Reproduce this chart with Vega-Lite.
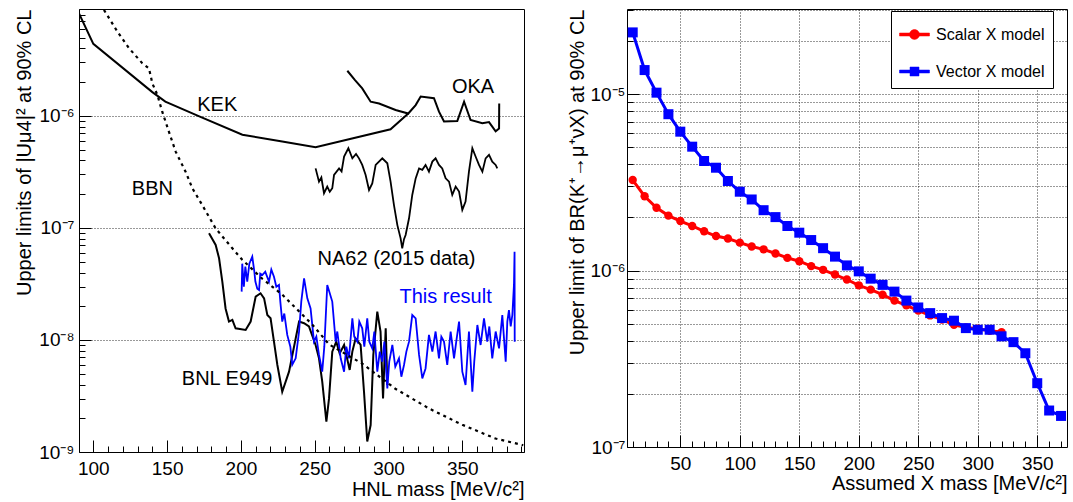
{
  "$schema": "https://vega.github.io/schema/vega-lite/v6.json",
  "background": "white",
  "autosize": {"type": "pad"},
  "padding": {"left": 13, "top": 8, "right": 5, "bottom": 3},
  "bounds": "flush",
  "spacing": 103,
  "config": {
    "font": "Liberation Sans",
    "view": {"stroke": "black", "strokeWidth": 1},
    "axis": {
      "domain": false,
      "tickColor": "black",
      "tickWidth": 1,
      "labelColor": "black",
      "labelFont": "Liberation Sans",
      "titleColor": "black",
      "titleFont": "Liberation Sans",
      "titleFontSize": 20,
      "titleFontWeight": "normal",
      "gridColor": "black",
      "gridDash": [1, 2],
      "gridWidth": 1
    }
  },
  "datasets": {
    "kek": [
      {"i": 0, "x": 90.3, "y": 8.2e-6}, {"i": 1, "x": 100, "y": 4.4e-6}, {"i": 2, "x": 140, "y": 1.63e-6},
      {"i": 3, "x": 148.8, "y": 1.34e-6}, {"i": 4, "x": 171.8, "y": 9.9e-7}, {"i": 5, "x": 201, "y": 6.8e-7},
      {"i": 6, "x": 228, "y": 5.9e-7}, {"i": 7, "x": 250.6, "y": 5.25e-7}, {"i": 8, "x": 301.4, "y": 7.6e-7},
      {"i": 9, "x": 313.4, "y": 1.05e-6}
    ],
    "oka": [
      {"i": 0, "x": 272.1, "y": 2.53e-6}, {"i": 1, "x": 277.3, "y": 2.09e-6}, {"i": 2, "x": 282.2, "y": 1.76e-6},
      {"i": 3, "x": 287.9, "y": 1.34e-6}, {"i": 4, "x": 293.6, "y": 1.29e-6}, {"i": 5, "x": 304.8, "y": 1.13e-6},
      {"i": 6, "x": 313.4, "y": 1.05e-6}, {"i": 7, "x": 318.4, "y": 1.25e-6}, {"i": 8, "x": 321.8, "y": 1.49e-6},
      {"i": 9, "x": 330.8, "y": 1.44e-6}, {"i": 10, "x": 334.2, "y": 1.09e-6}, {"i": 11, "x": 337.6, "y": 8.9e-7},
      {"i": 12, "x": 346.6, "y": 9.0e-7}, {"i": 13, "x": 351.2, "y": 1.34e-6}, {"i": 14, "x": 355.6, "y": 9.2e-7},
      {"i": 15, "x": 363.6, "y": 8.6e-7}, {"i": 16, "x": 368.1, "y": 8.8e-7}, {"i": 17, "x": 372.6, "y": 7.3e-7},
      {"i": 18, "x": 374.9, "y": 7.7e-7}, {"i": 19, "x": 375.0, "y": 1.29e-6}
    ],
    "bbn": [
      {"i": 0, "x": 107.2, "y": 8.83e-6}, {"i": 1, "x": 116.3, "y": 5.66e-6}, {"i": 2, "x": 124.2, "y": 4.02e-6},
      {"i": 3, "x": 133.2, "y": 2.95e-6}, {"i": 4, "x": 137.7, "y": 2.66e-6}, {"i": 5, "x": 140.0, "y": 1.95e-6},
      {"i": 6, "x": 143.4, "y": 1.54e-6}, {"i": 7, "x": 146.7, "y": 1.09e-6}, {"i": 8, "x": 151.2, "y": 7.24e-7},
      {"i": 9, "x": 155.8, "y": 4.8e-7}, {"i": 10, "x": 162.5, "y": 3.18e-7}, {"i": 11, "x": 167.1, "y": 2.26e-7},
      {"i": 12, "x": 173.8, "y": 1.6e-7}, {"i": 13, "x": 182.9, "y": 9.9e-8}, {"i": 14, "x": 194.2, "y": 6.58e-8},
      {"i": 15, "x": 200.9, "y": 5.2e-8}, {"i": 16, "x": 214.5, "y": 3.52e-8}, {"i": 17, "x": 228.0, "y": 2.54e-8},
      {"i": 18, "x": 248.4, "y": 1.37e-8}, {"i": 19, "x": 259.9, "y": 9.1e-9}, {"i": 20, "x": 282.2, "y": 6.15e-9},
      {"i": 21, "x": 304.6, "y": 3.67e-9}, {"i": 22, "x": 327.6, "y": 2.44e-9}, {"i": 23, "x": 350.0, "y": 1.75e-9},
      {"i": 24, "x": 372.4, "y": 1.32e-9}, {"i": 25, "x": 391.3, "y": 1.15e-9}
    ],
    "na62": [
      {"i": 0, "x": 250.6, "y": 3.4e-7}, {"i": 1, "x": 252.9, "y": 2.59e-7}, {"i": 2, "x": 254.5, "y": 2.82e-7},
      {"i": 3, "x": 256.3, "y": 2.04e-7}, {"i": 4, "x": 258.5, "y": 2.34e-7}, {"i": 5, "x": 260.2, "y": 2.1e-7},
      {"i": 6, "x": 261.9, "y": 2.26e-7}, {"i": 7, "x": 263.1, "y": 2.97e-7}, {"i": 8, "x": 266.5, "y": 3.4e-7},
      {"i": 9, "x": 268.2, "y": 3.2e-7}, {"i": 10, "x": 269.9, "y": 4.34e-7}, {"i": 11, "x": 272.8, "y": 5.14e-7},
      {"i": 12, "x": 275.5, "y": 4.18e-7}, {"i": 13, "x": 278, "y": 4.57e-7}, {"i": 14, "x": 280.0, "y": 4.18e-7},
      {"i": 15, "x": 282.2, "y": 3.65e-7}, {"i": 16, "x": 284.5, "y": 2.97e-7}, {"i": 17, "x": 286.8, "y": 2.18e-7},
      {"i": 18, "x": 289.0, "y": 2.5e-7}, {"i": 19, "x": 291.3, "y": 3.65e-7}, {"i": 20, "x": 295.8, "y": 4.18e-7},
      {"i": 21, "x": 299.2, "y": 3.78e-7}, {"i": 22, "x": 301.4, "y": 2.59e-7}, {"i": 23, "x": 303.7, "y": 1.6e-7},
      {"i": 24, "x": 306.0, "y": 1.06e-7}, {"i": 25, "x": 308.2, "y": 8.07e-8}, {"i": 26, "x": 309.3, "y": 6.58e-8},
      {"i": 27, "x": 310.5, "y": 7.94e-8}, {"i": 28, "x": 311.6, "y": 8.65e-8}, {"i": 29, "x": 313.9, "y": 1.22e-7},
      {"i": 30, "x": 316.1, "y": 1.97e-7}, {"i": 31, "x": 318.4, "y": 2.77e-7}, {"i": 32, "x": 320.7, "y": 3.4e-7},
      {"i": 33, "x": 322.9, "y": 3.3e-7}, {"i": 34, "x": 325.1, "y": 3.65e-7}, {"i": 35, "x": 327.4, "y": 3.18e-7},
      {"i": 36, "x": 329.7, "y": 3.91e-7}, {"i": 37, "x": 331.9, "y": 4.18e-7}, {"i": 38, "x": 334.2, "y": 3.65e-7},
      {"i": 39, "x": 336.4, "y": 3.4e-7}, {"i": 40, "x": 338.7, "y": 2.77e-7}, {"i": 41, "x": 341.0, "y": 2.59e-7},
      {"i": 42, "x": 343.2, "y": 1.97e-7}, {"i": 43, "x": 345.5, "y": 2.34e-7}, {"i": 44, "x": 347.8, "y": 2.11e-7},
      {"i": 45, "x": 350.0, "y": 1.45e-7}, {"i": 46, "x": 352.2, "y": 1.72e-7}, {"i": 47, "x": 354.5, "y": 3.18e-7},
      {"i": 48, "x": 356.8, "y": 5.14e-7}, {"i": 49, "x": 359.0, "y": 4.34e-7}, {"i": 50, "x": 361.3, "y": 3.65e-7},
      {"i": 51, "x": 363.6, "y": 3.18e-7}, {"i": 52, "x": 365.8, "y": 4.18e-7}, {"i": 53, "x": 368.1, "y": 4.49e-7},
      {"i": 54, "x": 370.3, "y": 3.91e-7}, {"i": 55, "x": 372.6, "y": 3.65e-7}, {"i": 56, "x": 373.7, "y": 3.4e-7}
    ],
    "bnl": [
      {"i": 0, "x": 178.4, "y": 8.95e-8}, {"i": 1, "x": 182.9, "y": 7.05e-8}, {"i": 2, "x": 185.2, "y": 5.36e-8},
      {"i": 3, "x": 187.4, "y": 3.32e-8}, {"i": 4, "x": 189.6, "y": 1.91e-8}, {"i": 5, "x": 191.9, "y": 1.46e-8},
      {"i": 6, "x": 194.2, "y": 1.51e-8}, {"i": 7, "x": 196.4, "y": 1.27e-8}, {"i": 8, "x": 203.2, "y": 1.23e-8},
      {"i": 9, "x": 206.6, "y": 1.46e-8}, {"i": 10, "x": 210.0, "y": 2.44e-8}, {"i": 11, "x": 213.3, "y": 2.61e-8},
      {"i": 12, "x": 215.7, "y": 2.35e-8}, {"i": 13, "x": 217.9, "y": 1.67e-8}, {"i": 14, "x": 220.1, "y": 1.56e-8},
      {"i": 15, "x": 222.4, "y": 9.66e-9}, {"i": 16, "x": 224.7, "y": 5.98e-9}, {"i": 17, "x": 228.0, "y": 3.45e-9},
      {"i": 18, "x": 232.6, "y": 5.21e-9}, {"i": 19, "x": 237.1, "y": 1.03e-8}, {"i": 20, "x": 239.4, "y": 1.46e-8},
      {"i": 21, "x": 242.8, "y": 1.41e-8}, {"i": 22, "x": 246.1, "y": 1.32e-8}, {"i": 23, "x": 250.6, "y": 9.02e-9},
      {"i": 24, "x": 252.9, "y": 6.86e-9}, {"i": 25, "x": 255.1, "y": 4.25e-9}, {"i": 26, "x": 257.9, "y": 1.87e-9},
      {"i": 27, "x": 259.7, "y": 3.01e-9}, {"i": 28, "x": 261.9, "y": 7.87e-9}, {"i": 29, "x": 264.6, "y": 9.66e-9},
      {"i": 30, "x": 266.9, "y": 7.59e-9}, {"i": 31, "x": 269.9, "y": 9.02e-9}, {"i": 32, "x": 273.7, "y": 5.4e-9},
      {"i": 33, "x": 275.5, "y": 7.87e-9}, {"i": 34, "x": 277.7, "y": 1.03e-8}, {"i": 35, "x": 281.1, "y": 9.02e-9},
      {"i": 36, "x": 283.4, "y": 3.45e-9}, {"i": 37, "x": 285.6, "y": 1.24e-9}, {"i": 38, "x": 287.9, "y": 1.74e-9},
      {"i": 39, "x": 289.7, "y": 7.35e-9}, {"i": 40, "x": 292.4, "y": 1.79e-8}, {"i": 41, "x": 294.6, "y": 1.19e-8},
      {"i": 42, "x": 296.3, "y": 3.01e-9}, {"i": 43, "x": 298.1, "y": 1.27e-8}, {"i": 44, "x": 299.2, "y": 3.96e-9}
    ],
    "blue": [
      {"i": 0, "x": 200.5, "y": 2.7e-8}, {"i": 1, "x": 200.9, "y": 4.8e-8}, {"i": 2, "x": 202.0, "y": 2.99e-8},
      {"i": 3, "x": 203.0, "y": 4.51e-8}, {"i": 4, "x": 204.3, "y": 3.32e-8}, {"i": 5, "x": 205.7, "y": 4.8e-8},
      {"i": 6, "x": 207.7, "y": 5.55e-8}, {"i": 7, "x": 209.1, "y": 4.07e-8}, {"i": 8, "x": 209.8, "y": 3.32e-8},
      {"i": 9, "x": 211.1, "y": 2.87e-8}, {"i": 10, "x": 212.3, "y": 2.79e-8}, {"i": 11, "x": 213.1, "y": 3.91e-8},
      {"i": 12, "x": 214.5, "y": 3.8e-8}, {"i": 13, "x": 216.5, "y": 4.07e-8}, {"i": 14, "x": 219.0, "y": 3.32e-8},
      {"i": 15, "x": 220.6, "y": 4.25e-8}, {"i": 16, "x": 222.4, "y": 3.67e-8}, {"i": 17, "x": 224.0, "y": 2.99e-8},
      {"i": 18, "x": 225.8, "y": 3.1e-8}, {"i": 19, "x": 226.7, "y": 2.2e-8}, {"i": 20, "x": 228.0, "y": 1.46e-8},
      {"i": 21, "x": 229.4, "y": 1.72e-8}, {"i": 22, "x": 231.4, "y": 1.11e-8}, {"i": 23, "x": 233.5, "y": 8.71e-9},
      {"i": 24, "x": 234.8, "y": 6.01e-9}, {"i": 25, "x": 237.1, "y": 6.86e-9}, {"i": 26, "x": 239.4, "y": 1.19e-8},
      {"i": 27, "x": 240.9, "y": 2.2e-8}, {"i": 28, "x": 242.8, "y": 3.55e-8}, {"i": 29, "x": 245.0, "y": 2.35e-8},
      {"i": 30, "x": 247.2, "y": 1.91e-8}, {"i": 31, "x": 249.5, "y": 9.66e-9}, {"i": 32, "x": 251.1, "y": 1.07e-8},
      {"i": 33, "x": 252.9, "y": 7.35e-9}, {"i": 34, "x": 255.1, "y": 5.21e-9}, {"i": 35, "x": 256.5, "y": 8.71e-9},
      {"i": 36, "x": 258.5, "y": 3.1e-8}, {"i": 37, "x": 259.9, "y": 2.7e-8}, {"i": 38, "x": 261.9, "y": 2.2e-8},
      {"i": 39, "x": 264.2, "y": 9.66e-9}, {"i": 40, "x": 265.3, "y": 1.19e-8}, {"i": 41, "x": 267.6, "y": 6.86e-9},
      {"i": 42, "x": 269.9, "y": 5.21e-9}, {"i": 43, "x": 271.4, "y": 8.71e-9}, {"i": 44, "x": 273.2, "y": 6.86e-9},
      {"i": 45, "x": 275.5, "y": 1.56e-8}, {"i": 46, "x": 276.8, "y": 1.07e-8}, {"i": 47, "x": 278.9, "y": 9.66e-9},
      {"i": 48, "x": 280.2, "y": 1.46e-8}, {"i": 49, "x": 282.2, "y": 1.27e-8}, {"i": 50, "x": 283.6, "y": 8.71e-9},
      {"i": 51, "x": 285.6, "y": 1.56e-8}, {"i": 52, "x": 287.0, "y": 9.66e-9}, {"i": 53, "x": 289.0, "y": 8.41e-9},
      {"i": 54, "x": 290.4, "y": 1.19e-8}, {"i": 55, "x": 292.4, "y": 5.21e-9}, {"i": 56, "x": 294.1, "y": 7.87e-9},
      {"i": 57, "x": 295.8, "y": 6.4e-9}, {"i": 58, "x": 297.2, "y": 9.66e-9}, {"i": 59, "x": 299.2, "y": 3.7e-9},
      {"i": 60, "x": 300.5, "y": 6.4e-9}, {"i": 61, "x": 302.6, "y": 9.02e-9}, {"i": 62, "x": 304.6, "y": 5.78e-9},
      {"i": 63, "x": 307.1, "y": 6.86e-9}, {"i": 64, "x": 308.7, "y": 4.7e-9}, {"i": 65, "x": 310.5, "y": 5.98e-9},
      {"i": 66, "x": 312.1, "y": 7.87e-9}, {"i": 67, "x": 313.9, "y": 9.66e-9}, {"i": 68, "x": 316.1, "y": 1.67e-8},
      {"i": 69, "x": 318.4, "y": 1.56e-8}, {"i": 70, "x": 320.7, "y": 7.35e-9}, {"i": 71, "x": 322.9, "y": 4.54e-9},
      {"i": 72, "x": 325.1, "y": 5.57e-9}, {"i": 73, "x": 327.4, "y": 1.11e-8}, {"i": 74, "x": 329.7, "y": 7.87e-9},
      {"i": 75, "x": 331.9, "y": 1.19e-8}, {"i": 76, "x": 334.2, "y": 6.86e-9}, {"i": 77, "x": 335.8, "y": 1.07e-8},
      {"i": 78, "x": 337.6, "y": 9.66e-9}, {"i": 79, "x": 339.8, "y": 5.98e-9}, {"i": 80, "x": 342.1, "y": 1.19e-8},
      {"i": 81, "x": 344.4, "y": 6.86e-9}, {"i": 82, "x": 345.9, "y": 9.66e-9}, {"i": 83, "x": 347.8, "y": 1.46e-8},
      {"i": 84, "x": 350.0, "y": 5.21e-9}, {"i": 85, "x": 352.2, "y": 3.96e-9}, {"i": 86, "x": 354.5, "y": 1.19e-8},
      {"i": 87, "x": 356.8, "y": 3.45e-9}, {"i": 88, "x": 358.1, "y": 6.4e-9}, {"i": 89, "x": 360.2, "y": 1.36e-8},
      {"i": 90, "x": 362.4, "y": 9.02e-9}, {"i": 91, "x": 364.7, "y": 1.56e-8}, {"i": 92, "x": 366.9, "y": 9.66e-9},
      {"i": 93, "x": 368.3, "y": 1.32e-8}, {"i": 94, "x": 370.3, "y": 6.86e-9}, {"i": 95, "x": 372.6, "y": 1.19e-8},
      {"i": 96, "x": 374.9, "y": 8.41e-9}, {"i": 97, "x": 377.1, "y": 1.67e-8}, {"i": 98, "x": 379.4, "y": 6.4e-9},
      {"i": 99, "x": 380.5, "y": 1.46e-8}, {"i": 100, "x": 381.6, "y": 1.85e-8}, {"i": 101, "x": 382.8, "y": 1.32e-8},
      {"i": 102, "x": 383.9, "y": 1.67e-8}, {"i": 103, "x": 385.0, "y": 3.1e-8}, {"i": 104, "x": 385.4, "y": 6.14e-8},
      {"i": 105, "x": 385.5, "y": 9.66e-9}
    ],
    "labels": [
      {"i": 0, "label": "KEK", "x": 184.0, "y": 1.11e-6},
      {"i": 1, "label": "OKA", "x": 357.3, "y": 1.59e-6},
      {"i": 2, "label": "BBN", "x": 140.0, "y": 1.97e-7},
      {"i": 3, "label": "NA62 (2015 data)", "x": 305.4, "y": 4.68e-8},
      {"i": 4, "label": "This result", "x": 338.7, "y": 2.12e-8},
      {"i": 5, "label": "BNL E949", "x": 190.6, "y": 3.97e-9}
    ],
    "xmodel": [
      {"series": "Scalar X model", "m": 10, "br": 3.26e-6}, {"series": "Scalar X model", "m": 20, "br": 2.64e-6},
      {"series": "Scalar X model", "m": 30, "br": 2.27e-6}, {"series": "Scalar X model", "m": 40, "br": 2.05e-6},
      {"series": "Scalar X model", "m": 50, "br": 1.91e-6}, {"series": "Scalar X model", "m": 60, "br": 1.79e-6},
      {"series": "Scalar X model", "m": 70, "br": 1.67e-6}, {"series": "Scalar X model", "m": 80, "br": 1.57e-6},
      {"series": "Scalar X model", "m": 90, "br": 1.52e-6}, {"series": "Scalar X model", "m": 100, "br": 1.44e-6},
      {"series": "Scalar X model", "m": 110, "br": 1.37e-6}, {"series": "Scalar X model", "m": 120, "br": 1.32e-6},
      {"series": "Scalar X model", "m": 130, "br": 1.25e-6}, {"series": "Scalar X model", "m": 140, "br": 1.18e-6},
      {"series": "Scalar X model", "m": 150, "br": 1.13e-6}, {"series": "Scalar X model", "m": 160, "br": 1.06e-6},
      {"series": "Scalar X model", "m": 170, "br": 1.01e-6}, {"series": "Scalar X model", "m": 180, "br": 9.5e-7},
      {"series": "Scalar X model", "m": 190, "br": 8.9e-7}, {"series": "Scalar X model", "m": 200, "br": 8.25e-7},
      {"series": "Scalar X model", "m": 210, "br": 7.8e-7}, {"series": "Scalar X model", "m": 220, "br": 7.3e-7},
      {"series": "Scalar X model", "m": 230, "br": 6.76e-7}, {"series": "Scalar X model", "m": 240, "br": 6.35e-7},
      {"series": "Scalar X model", "m": 250, "br": 5.93e-7}, {"series": "Scalar X model", "m": 260, "br": 5.57e-7},
      {"series": "Scalar X model", "m": 270, "br": 5.27e-7}, {"series": "Scalar X model", "m": 280, "br": 4.93e-7},
      {"series": "Scalar X model", "m": 290, "br": 4.76e-7}, {"series": "Scalar X model", "m": 300, "br": 4.68e-7},
      {"series": "Scalar X model", "m": 310, "br": 4.56e-7}, {"series": "Scalar X model", "m": 320, "br": 4.48e-7},
      {"series": "Vector X model", "m": 10, "br": 2.24e-5}, {"series": "Vector X model", "m": 20, "br": 1.37e-5},
      {"series": "Vector X model", "m": 30, "br": 1.02e-5}, {"series": "Vector X model", "m": 40, "br": 7.7e-6},
      {"series": "Vector X model", "m": 50, "br": 6.13e-6}, {"series": "Vector X model", "m": 60, "br": 5.04e-6},
      {"series": "Vector X model", "m": 70, "br": 4.18e-6}, {"series": "Vector X model", "m": 80, "br": 3.83e-6},
      {"series": "Vector X model", "m": 90, "br": 3.22e-6}, {"series": "Vector X model", "m": 100, "br": 2.8e-6},
      {"series": "Vector X model", "m": 110, "br": 2.53e-6}, {"series": "Vector X model", "m": 120, "br": 2.2e-6},
      {"series": "Vector X model", "m": 130, "br": 2.01e-6}, {"series": "Vector X model", "m": 140, "br": 1.79e-6},
      {"series": "Vector X model", "m": 150, "br": 1.64e-6}, {"series": "Vector X model", "m": 160, "br": 1.49e-6},
      {"series": "Vector X model", "m": 170, "br": 1.34e-6}, {"series": "Vector X model", "m": 180, "br": 1.2e-6},
      {"series": "Vector X model", "m": 190, "br": 1.07e-6}, {"series": "Vector X model", "m": 200, "br": 9.9e-7},
      {"series": "Vector X model", "m": 210, "br": 9.0e-7}, {"series": "Vector X model", "m": 220, "br": 8.3e-7},
      {"series": "Vector X model", "m": 230, "br": 7.6e-7}, {"series": "Vector X model", "m": 240, "br": 6.76e-7},
      {"series": "Vector X model", "m": 250, "br": 6.18e-7}, {"series": "Vector X model", "m": 260, "br": 5.74e-7},
      {"series": "Vector X model", "m": 270, "br": 5.38e-7}, {"series": "Vector X model", "m": 280, "br": 5.2e-7},
      {"series": "Vector X model", "m": 290, "br": 4.72e-7}, {"series": "Vector X model", "m": 300, "br": 4.62e-7},
      {"series": "Vector X model", "m": 310, "br": 4.62e-7}, {"series": "Vector X model", "m": 320, "br": 4.24e-7},
      {"series": "Vector X model", "m": 330, "br": 3.93e-7}, {"series": "Vector X model", "m": 340, "br": 3.4e-7},
      {"series": "Vector X model", "m": 350, "br": 2.3e-7}, {"series": "Vector X model", "m": 360, "br": 1.61e-7},
      {"series": "Vector X model", "m": 370, "br": 1.5e-7}
    ]
  },
  "hconcat": [
    {
      "width": 445,
      "height": 443,
      "encoding": {
        "x": {
          "field": "x", "type": "quantitative",
          "scale": {"domain": [90.3, 391.8], "nice": false, "zero": false},
          "axis": {
            "values": [100,110,120,130,140,150,160,170,180,190,200,210,220,230,240,250,260,270,280,290,300,310,320,330,340,350,360,370,380,390],
            "labelExpr": "datum.value % 50 === 0 ? format(datum.value, 'd') : ''",
            "labelFontSize": {"condition": {"test": "datum.value % 50 === 0", "value": 19}, "value": 0},
            "tickSize": {"condition": {"test": "datum.value % 50 === 0", "value": -12}, "value": -6},
            "labelPadding": 19,
            "labelFlush": false,
            "labelOverlap": false,
            "grid": false,
            "title": "HNL mass [MeV/c²]",
            "titleX": 445, "titleY": 43, "titleAlign": "right", "titleAnchor": "end", "titleBaseline": "alphabetic"
          }
        },
        "y": {
          "field": "y", "type": "quantitative",
          "scale": {"type": "log", "domain": [1e-9, 9e-6], "nice": false},
          "axis": {
            "values": [1e-9,2e-9,3e-9,4e-9,5e-9,6e-9,7e-9,8e-9,9e-9,1e-8,2e-8,3e-8,4e-8,5e-8,6e-8,7e-8,8e-8,9e-8,1e-7,2e-7,3e-7,4e-7,5e-7,6e-7,7e-7,8e-7,9e-7,1e-6,2e-6,3e-6,4e-6,5e-6,6e-6,7e-6,8e-6,9e-6],
            "labelExpr": "abs(log(datum.value)/LN10 - round(log(datum.value)/LN10)) < 0.001 ? '10⁻' + ['⁰','¹','²','³','⁴','⁵','⁶','⁷','⁸','⁹'][-round(log(datum.value)/LN10)] : ''",
            "labelFontSize": {"condition": {"test": "abs(log(datum.value)/LN10 - round(log(datum.value)/LN10)) < 0.001", "value": 19}, "value": 0},
            "tickSize": {"condition": {"test": "abs(log(datum.value)/LN10 - round(log(datum.value)/LN10)) < 0.001", "value": -12}, "value": -6},
            "labelPadding": 17,
            "labelFlush": false,
            "labelOverlap": false,
            "labelBaseline": "middle",
            "grid": true,
            "gridOpacity": {"condition": {"test": "abs(log(datum.value)/LN10 - round(log(datum.value)/LN10)) < 0.001", "value": 0.8}, "value": 0},
            "title": "Upper limits of |Uμ4|² at 90% CL",
            "titleX": -49, "titleY": 0, "titleAlign": "right", "titleAnchor": "end", "titleAngle": -90, "titleBaseline": "alphabetic"
          }
        },
        "order": {"field": "i", "type": "quantitative"}
      },
      "layer": [
        {
          "data": {"name": "kek"},
          "mark": {"type": "line", "color": "black", "strokeWidth": 2, "clip": true}
        },
        {
          "data": {"name": "oka"},
          "mark": {"type": "line", "color": "black", "strokeWidth": 2, "clip": true}
        },
        {
          "data": {"name": "na62"},
          "mark": {"type": "line", "color": "black", "strokeWidth": 1.8, "clip": true}
        },
        {
          "data": {"name": "bnl"},
          "mark": {"type": "line", "color": "black", "strokeWidth": 2, "clip": true}
        },
        {
          "data": {"name": "blue"},
          "mark": {"type": "line", "color": "#0000ff", "strokeWidth": 1.8, "clip": true}
        },
        {
          "data": {"name": "bbn"},
          "mark": {"type": "line", "color": "black", "strokeWidth": 2.2, "strokeDash": [3, 4], "clip": true}
        },
        {
          "data": {"name": "labels"},
          "mark": {"type": "text", "font": "Liberation Sans", "fontSize": 20, "align": "center", "baseline": "alphabetic"},
          "encoding": {
            "text": {"field": "label"},
            "color": {"condition": {"test": "datum.label === 'This result'", "value": "#0000ff"}, "value": "black"}
          }
        }
      ]
    },
    {
      "width": 440,
      "height": 438,
      "data": {"name": "xmodel"},
      "encoding": {
        "x": {
          "field": "m", "type": "quantitative",
          "scale": {"domain": [5.2, 375], "nice": false, "zero": false},
          "axis": {
            "values": [10,20,30,40,50,60,70,80,90,100,110,120,130,140,150,160,170,180,190,200,210,220,230,240,250,260,270,280,290,300,310,320,330,340,350,360,370],
            "labelExpr": "datum.value % 50 === 0 ? format(datum.value, 'd') : ''",
            "labelFontSize": {"condition": {"test": "datum.value % 50 === 0", "value": 19}, "value": 0},
            "tickSize": {"condition": {"test": "datum.value % 50 === 0", "value": -12}, "value": -6},
            "labelPadding": 19,
            "labelFlush": false,
            "labelOverlap": false,
            "grid": true,
            "gridOpacity": {"condition": {"test": "datum.value % 50 === 0", "value": 0.8}, "value": 0},
            "title": "Assumed X mass [MeV/c²]",
            "titleX": 440, "titleY": 42, "titleAlign": "right", "titleAnchor": "end", "titleBaseline": "alphabetic"
          }
        },
        "y": {
          "field": "br", "type": "quantitative",
          "scale": {"type": "log", "domain": [1e-7, 3.04e-5], "nice": false},
          "axis": {
            "values": [1e-7,2e-7,3e-7,4e-7,5e-7,6e-7,7e-7,8e-7,9e-7,1e-6,2e-6,3e-6,4e-6,5e-6,6e-6,7e-6,8e-6,9e-6,1e-5,2e-5,3e-5],
            "labelExpr": "abs(log(datum.value)/LN10 - round(log(datum.value)/LN10)) < 0.001 ? '10⁻' + ['⁰','¹','²','³','⁴','⁵','⁶','⁷','⁸','⁹'][-round(log(datum.value)/LN10)] : ''",
            "labelFontSize": {"condition": {"test": "abs(log(datum.value)/LN10 - round(log(datum.value)/LN10)) < 0.001", "value": 19}, "value": 0},
            "tickSize": {"condition": {"test": "abs(log(datum.value)/LN10 - round(log(datum.value)/LN10)) < 0.001", "value": -12}, "value": -6},
            "labelPadding": 14,
            "labelFlush": false,
            "labelOverlap": false,
            "labelBaseline": "middle",
            "grid": true,
            "gridOpacity": 0.8,
            "title": "Upper limit of BR(K⁺→μ⁺νX) at 90% CL",
            "titleX": -44, "titleY": 0, "titleAlign": "right", "titleAnchor": "end", "titleAngle": -90, "titleBaseline": "alphabetic"
          }
        }
      },
      "layer": [
        {
          "transform": [{"filter": "datum.series === 'Scalar X model'"}],
          "mark": {"type": "line", "strokeWidth": 3},
          "encoding": {
            "color": {
              "field": "series", "type": "nominal",
              "scale": {"domain": ["Scalar X model", "Vector X model"], "range": ["#ff0000", "#0000ff"]},
              "legend": {
                "title": null,
                "orient": "none",
                "legendX": 812,
                "legendY": 2,
                "strokeColor": "black",
                "fillColor": "white",
                "padding": 8,
                "rowPadding": 13,
                "cornerRadius": 0,
                "symbolSize": 900,
                "labelFont": "Liberation Sans",
                "labelFontSize": 16,
                "labelColor": "black",
                "labelOffset": 6,
                "encode": {
                  "symbols": {
                    "update": {
                      "shape": {"signal": "datum.value === 'Scalar X model' ? 'M-1,-0.1H1V0.1H-1Z M-0.33,0A0.33,0.33 0 1,1 0.33,0A0.33,0.33 0 1,1 -0.33,0Z' : 'M-1,-0.1H1V0.1H-1Z M-0.3,-0.3H0.3V0.3H-0.3Z'"},
                      "fill": {"signal": "datum.value === 'Scalar X model' ? '#ff0000' : '#0000ff'"},
                      "stroke": {"signal": "datum.value === 'Scalar X model' ? '#ff0000' : '#0000ff'"},
                      "strokeWidth": {"value": 0.5},
                      "opacity": {"value": 1},
                      "fillOpacity": {"value": 1}
                    }
                  }
                }
              }
            }
          }
        },
        {
          "transform": [{"filter": "datum.series === 'Scalar X model'"}],
          "mark": {"type": "point", "filled": true, "opacity": 1, "shape": "circle", "size": 70},
          "encoding": {"color": {"field": "series", "type": "nominal"}}
        },
        {
          "transform": [{"filter": "datum.series === 'Vector X model'"}],
          "mark": {"type": "line", "strokeWidth": 3},
          "encoding": {"color": {"field": "series", "type": "nominal"}}
        },
        {
          "transform": [{"filter": "datum.series === 'Vector X model'"}],
          "mark": {"type": "point", "filled": true, "opacity": 1, "shape": "square", "size": 100},
          "encoding": {"color": {"field": "series", "type": "nominal"}}
        }
      ]
    }
  ]
}
